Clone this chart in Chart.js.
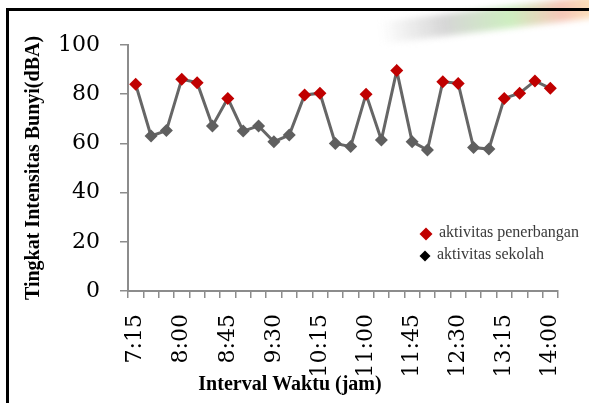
<!DOCTYPE html>
<html>
<head>
<meta charset="utf-8">
<script src="https://cdn.jsdelivr.net/npm/chart.js@4/dist/chart.umd.min.js"></script>
<style>
  html, body { margin: 0; padding: 0; background: #fff; }
  #wrap { position: relative; width: 589px; height: 403px; overflow: hidden; }
  #swoosh {
    position: absolute; left: 380px; top: 6px; width: 260px; height: 22px;
    transform: rotate(-7deg); filter: blur(3px);
    background: linear-gradient(90deg, rgba(220,220,220,0), #d6d6d6 25%, #cdeec0 50%, #f6c6b8 70%, #fff1b8 90%);
  }
  #frame { position: absolute; left: 6px; top: 8px; right: -10px; bottom: -10px;
    border-left: 3px solid #000; border-top: 3px solid #000; }
  canvas { position: absolute; left: 0; top: 0; }
</style>
</head>
<body>
<div id="wrap">
  <div id="swoosh"></div>
  <div id="frame"></div>
  <canvas id="noiseChart" width="589" height="403"></canvas>
</div>
<script>
const timeLabels = ["7:15", "7:30", "7:45", "8:00", "8:15", "8:30", "8:45", "9:00", "9:15", "9:30",
  "9:45", "10:00", "10:15", "10:30", "10:45", "11:00", "11:15", "11:30", "11:45", "12:00",
  "12:15", "12:30", "12:45", "13:00", "13:15", "13:30", "13:45", "14:00"];
const shownLabels = ["7:15", "8:00", "8:45", "9:30", "10:15", "11:00", "11:45", "12:30", "13:15", "14:00"];
const noiseLevel = [84.0, 63.0, 65.2, 86.1, 84.7, 67.1, 78.3, 65.0, 67.1, 60.7,
  63.4, 79.7, 80.4, 60.0, 58.7, 80.0, 61.4, 89.6, 60.7, 57.3,
  85.1, 84.4, 58.3, 57.7, 78.3, 80.4, 85.4, 82.4];
// p = aktivitas penerbangan, s = aktivitas sekolah
const activity = ["p", "s", "s", "p", "p", "s", "p", "s", "s", "s",
  "s", "p", "p", "s", "s", "p", "s", "p", "s", "s",
  "p", "p", "s", "s", "p", "p", "p", "p"];
const legendLabels = ["aktivitas penerbangan", "aktivitas sekolah"];
const xTitle = "Interval Waktu (jam)";
const yTitle = "Tingkat Intensitas Bunyi(dBA)";

const flightColor = "#c00000";
const schoolColor = "#5f5f5f";
const serif = "'Liberation Serif', 'DejaVu Serif', serif";
const digits = "'DejaVu Serif', serif";

// legend sits inside the plot and the x title is off-centre in the original,
// so both are drawn here
const extras = {
  id: "extras",
  afterDatasetsDraw(chart) {
    const ctx = chart.ctx;
    ctx.save();
    ctx.font = "16px " + serif;
    ctx.textBaseline = "middle";
    const items = [
      { text: legendLabels[0], color: flightColor, r: 6.5, x: 426, y: 234, tx: 439 },
      { text: legendLabels[1], color: "#000000", r: 5.5, x: 425, y: 256, tx: 437 },
    ];
    items.forEach((it) => {
      ctx.fillStyle = it.color;
      ctx.beginPath();
      ctx.moveTo(it.x, it.y - it.r);
      ctx.lineTo(it.x + it.r, it.y);
      ctx.lineTo(it.x, it.y + it.r);
      ctx.lineTo(it.x - it.r, it.y);
      ctx.closePath();
      ctx.fill();
      ctx.fillStyle = "#3a3a3a";
      ctx.fillText(it.text, it.tx, it.y - 1);
    });

    ctx.font = "bold 20px " + serif;
    ctx.fillStyle = "#000";
    ctx.textAlign = "center";
    ctx.fillText(xTitle, 290, 385);
    ctx.restore();
  },
};

const ctx = document.getElementById("noiseChart").getContext("2d");
new Chart(ctx, {
  type: "line",
  data: {
    labels: timeLabels,
    datasets: [
      {
        data: noiseLevel,
        borderColor: "#666666",
        borderWidth: 3,
        tension: 0,
        pointStyle: "rectRot",
        pointRadius: 6.5,
        pointBorderWidth: 0,
        pointBackgroundColor: activity.map((a) => (a === "p" ? flightColor : schoolColor)),
        pointBorderColor: activity.map((a) => (a === "p" ? flightColor : schoolColor)),
      },
    ],
  },
  options: {
    responsive: false,
    animation: false,
    layout: { padding: { top: 45, right: 31, bottom: 0, left: 0 } },
    plugins: { legend: { display: false }, tooltip: { enabled: false } },
    scales: {
      x: {
        offset: true,
        afterFit: (scale) => { scale.height = 112; scale.paddingRight = 0; scale.paddingLeft = 0; },
        grid: { offset: true, drawOnChartArea: false, tickLength: 7, color: "#8c8c8c", lineWidth: 1.5 },
        border: { color: "#8c8c8c", width: 2 },
        ticks: {
          autoSkip: false,
          maxRotation: 90,
          minRotation: 90,
          padding: 16,
          color: "#000",
          font: { family: digits, size: 22 },
          callback: function (value) {
            const lbl = this.getLabelForValue(value);
            return shownLabels.includes(lbl) ? lbl : "";
          },
        },
      },
      y: {
        min: 0,
        max: 100,
        afterFit: (scale) => { scale.width = 128; },
        grid: { drawOnChartArea: false, tickLength: 8, color: "#8c8c8c", lineWidth: 1.5 },
        border: { color: "#8c8c8c", width: 2 },
        ticks: {
          stepSize: 20,
          padding: 20,
          color: "#000",
          font: { family: digits, size: 22 },
        },
        title: {
          display: true,
          text: yTitle,
          color: "#000",
          font: { family: serif, size: 20, weight: "bold" },
          padding: { top: 22, bottom: 0 },
        },
      },
    },
  },
  plugins: [extras],
});
</script>
</body>
</html>
